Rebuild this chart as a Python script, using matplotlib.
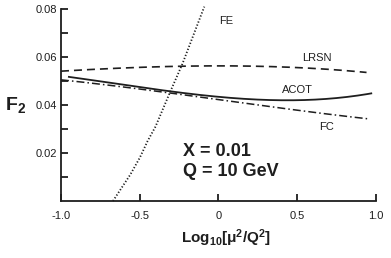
import matplotlib
matplotlib.use("Agg")
import matplotlib.pyplot as plt
import numpy as np

plt.rcParams['font.family'] = ['Liberation Sans', 'DejaVu Sans']
plt.rcParams['mathtext.fontset'] = 'custom'
plt.rcParams['mathtext.rm'] = 'Liberation Sans'
plt.rcParams['mathtext.bf'] = 'Liberation Sans:bold'
plt.rcParams['mathtext.it'] = 'Liberation Sans:italic'

# Data
lrsn_x = [-1.0, -0.75, -0.5, -0.25, 0.0, 0.25, 0.5, 0.75, 0.94]
lrsn_y = [0.0542, 0.0549, 0.0556, 0.0562, 0.0565, 0.0562, 0.0555, 0.0545, 0.0537]

acot_x = [-0.95, -0.75, -0.5, -0.3, -0.1, 0.1, 0.3, 0.5, 0.7, 0.97]
acot_y = [0.0518, 0.0498, 0.0474, 0.0456, 0.0442, 0.0430, 0.0421, 0.0419, 0.0426, 0.0449]

fc_x = [-1.0, -0.75, -0.5, -0.3, -0.1, 0.1, 0.3, 0.5, 0.7, 0.95]
fc_y = [0.0504, 0.0488, 0.0468, 0.0450, 0.0430, 0.0412, 0.0395, 0.0380, 0.0364, 0.0341]

fe_x = [-0.67, -0.62, -0.56, -0.50, -0.45, -0.40, -0.31, -0.23, -0.16, -0.09]
fe_y = [0.0, 0.005, 0.011, 0.018, 0.025, 0.031, 0.045, 0.057, 0.069, 0.081]

xticks = [-1.0, -0.5, 0.0, 0.5, 1.0]
xticklabels = ['-1.0', '-0.5', '0', '0.5', '1.0']
yticks = [0.02, 0.04, 0.06, 0.08]
yticklabels = ['0.02', '0.04', '0.06', '0.08']
yminor = [0.01, 0.03, 0.05, 0.07]

col = '#1e1e1e'

fig = plt.figure(figsize=(3.91, 2.58), dpi=100)
ax = fig.add_axes([0.156, 0.2209, 0.8056, 0.744])

def smooth(x, y, deg=3):
    xs = np.linspace(min(x), max(x), 200)
    c = np.polyfit(x, y, deg)
    return xs, np.polyval(c, xs)

ax.plot(*smooth(lrsn_x, lrsn_y), color=col, lw=1.2, dashes=(4.8, 3.0))
ax.plot(*smooth(acot_x, acot_y), color=col, lw=1.3)
ax.plot(*smooth(fc_x, fc_y), color=col, lw=1.1, dashes=(5.2, 2.0, 1.0, 2.0))
ax.plot(fe_x, fe_y, color=col, lw=1.3, linestyle=(0, (0.7, 1.1)), clip_on=False)

ax.set_xlim(-1.0, 1.0)
ax.set_ylim(0.0, 0.08)

for s in ['top', 'right']:
    ax.spines[s].set_visible(False)
for s in ['left', 'bottom']:
    ax.spines[s].set_linewidth(1.3)
    ax.spines[s].set_color(col)

ax.set_xticks(xticks)
ax.set_xticklabels(xticklabels)
ax.set_yticks(yticks)
ax.set_yticklabels(yticklabels)
ax.set_yticks(yminor, minor=True)
ax.tick_params(axis='both', which='both', direction='in', length=5, width=1.3,
               color=col, labelsize=8, labelcolor=col)
ax.tick_params(axis='x', pad=7)
ax.tick_params(axis='y', pad=3)

H = 258
def fx(px):
    return px / 391.0
def fy(py):
    return 1 - py / H

fig.text(fx(226), fy(21), 'FE', fontsize=8, color=col, ha='center', va='center')
fig.text(fx(317), fy(58), 'LRSN', fontsize=8, color=col, ha='center', va='center')
fig.text(fx(297), fy(90), 'ACOT', fontsize=8, color=col, ha='center', va='center')
fig.text(fx(327), fy(127), 'FC', fontsize=8, color=col, ha='center', va='center')

fig.text(fx(183), fy(151), 'X = 0.01', fontsize=13, fontweight='bold', color=col,
         ha='left', va='center')
fig.text(fx(183), fy(171), 'Q = 10 GeV', fontsize=13, fontweight='bold', color=col,
         ha='left', va='center')
fig.text(fx(5), fy(105), r'$\mathbf{F}_{\mathbf{2}}$', fontsize=14, color=col,
         ha='left', va='center')
fig.text(fx(226), fy(238), 'Log$_{\\mathbf{10}}$[μ$^{\\mathbf{2}}$/Q$^{\\mathbf{2}}$]',
         fontsize=11, fontweight='bold', color=col, ha='center', va='center')

fig.savefig('out.png', dpi=100)
